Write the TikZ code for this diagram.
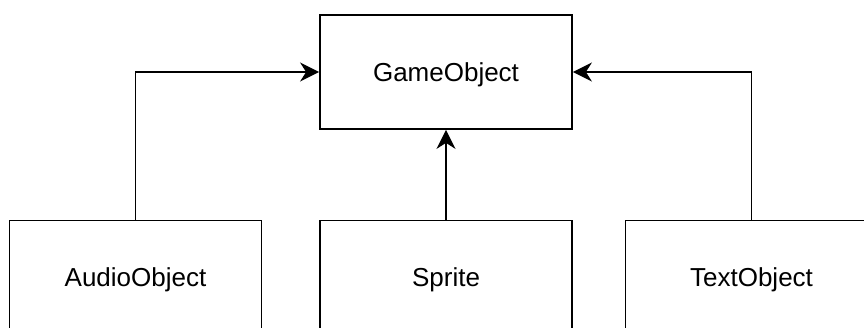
\documentclass[tikz,border=0pt]{standalone}
\usepackage{fontspec}
\setmainfont{Liberation Sans}
\usetikzlibrary{arrows.meta}
\begin{document}
\begin{tikzpicture}[x=1pt,y=1pt,
  cls/.style={draw=black, line width=1.8pt, fill=white, minimum width=252pt,
    minimum height=114pt, inner sep=0pt},
  lbl/.style={font=\fontsize{26}{30}\selectfont, inner sep=0pt},
  inherit/.style={draw=black, line width=1.8pt,
    -{Stealth[length=19pt,width=19pt,inset=6pt]}}]
  \useasboundingbox (0,0) rectangle (864,328);
  \clip (0,0) rectangle (864,328);
  % base class
  \node[cls] (game) at (446,256) {};
  \node[lbl] (gamelbl) at (446,253) {GameObject};
  % subclasses
  \node[cls] (audio) at (135.5,50.5) {};
  \node[cls] (sprite) at (446,50.5) {};
  \node[cls] (text) at (751.5,50.5) {};
  \node[lbl] (audiolbl) at (135.5,48) {AudioObject};
  \node[lbl] (spritelbl) at (446,48) {Sprite};
  \node[lbl] (textlbl) at (751.5,48) {TextObject};
  % inheritance connectors
  \draw[inherit] (audio.north) |- (game.west);
  \draw[inherit] (sprite.north) -- (game.south);
  \draw[inherit] (text.north) |- (game.east);
\end{tikzpicture}
\end{document}
